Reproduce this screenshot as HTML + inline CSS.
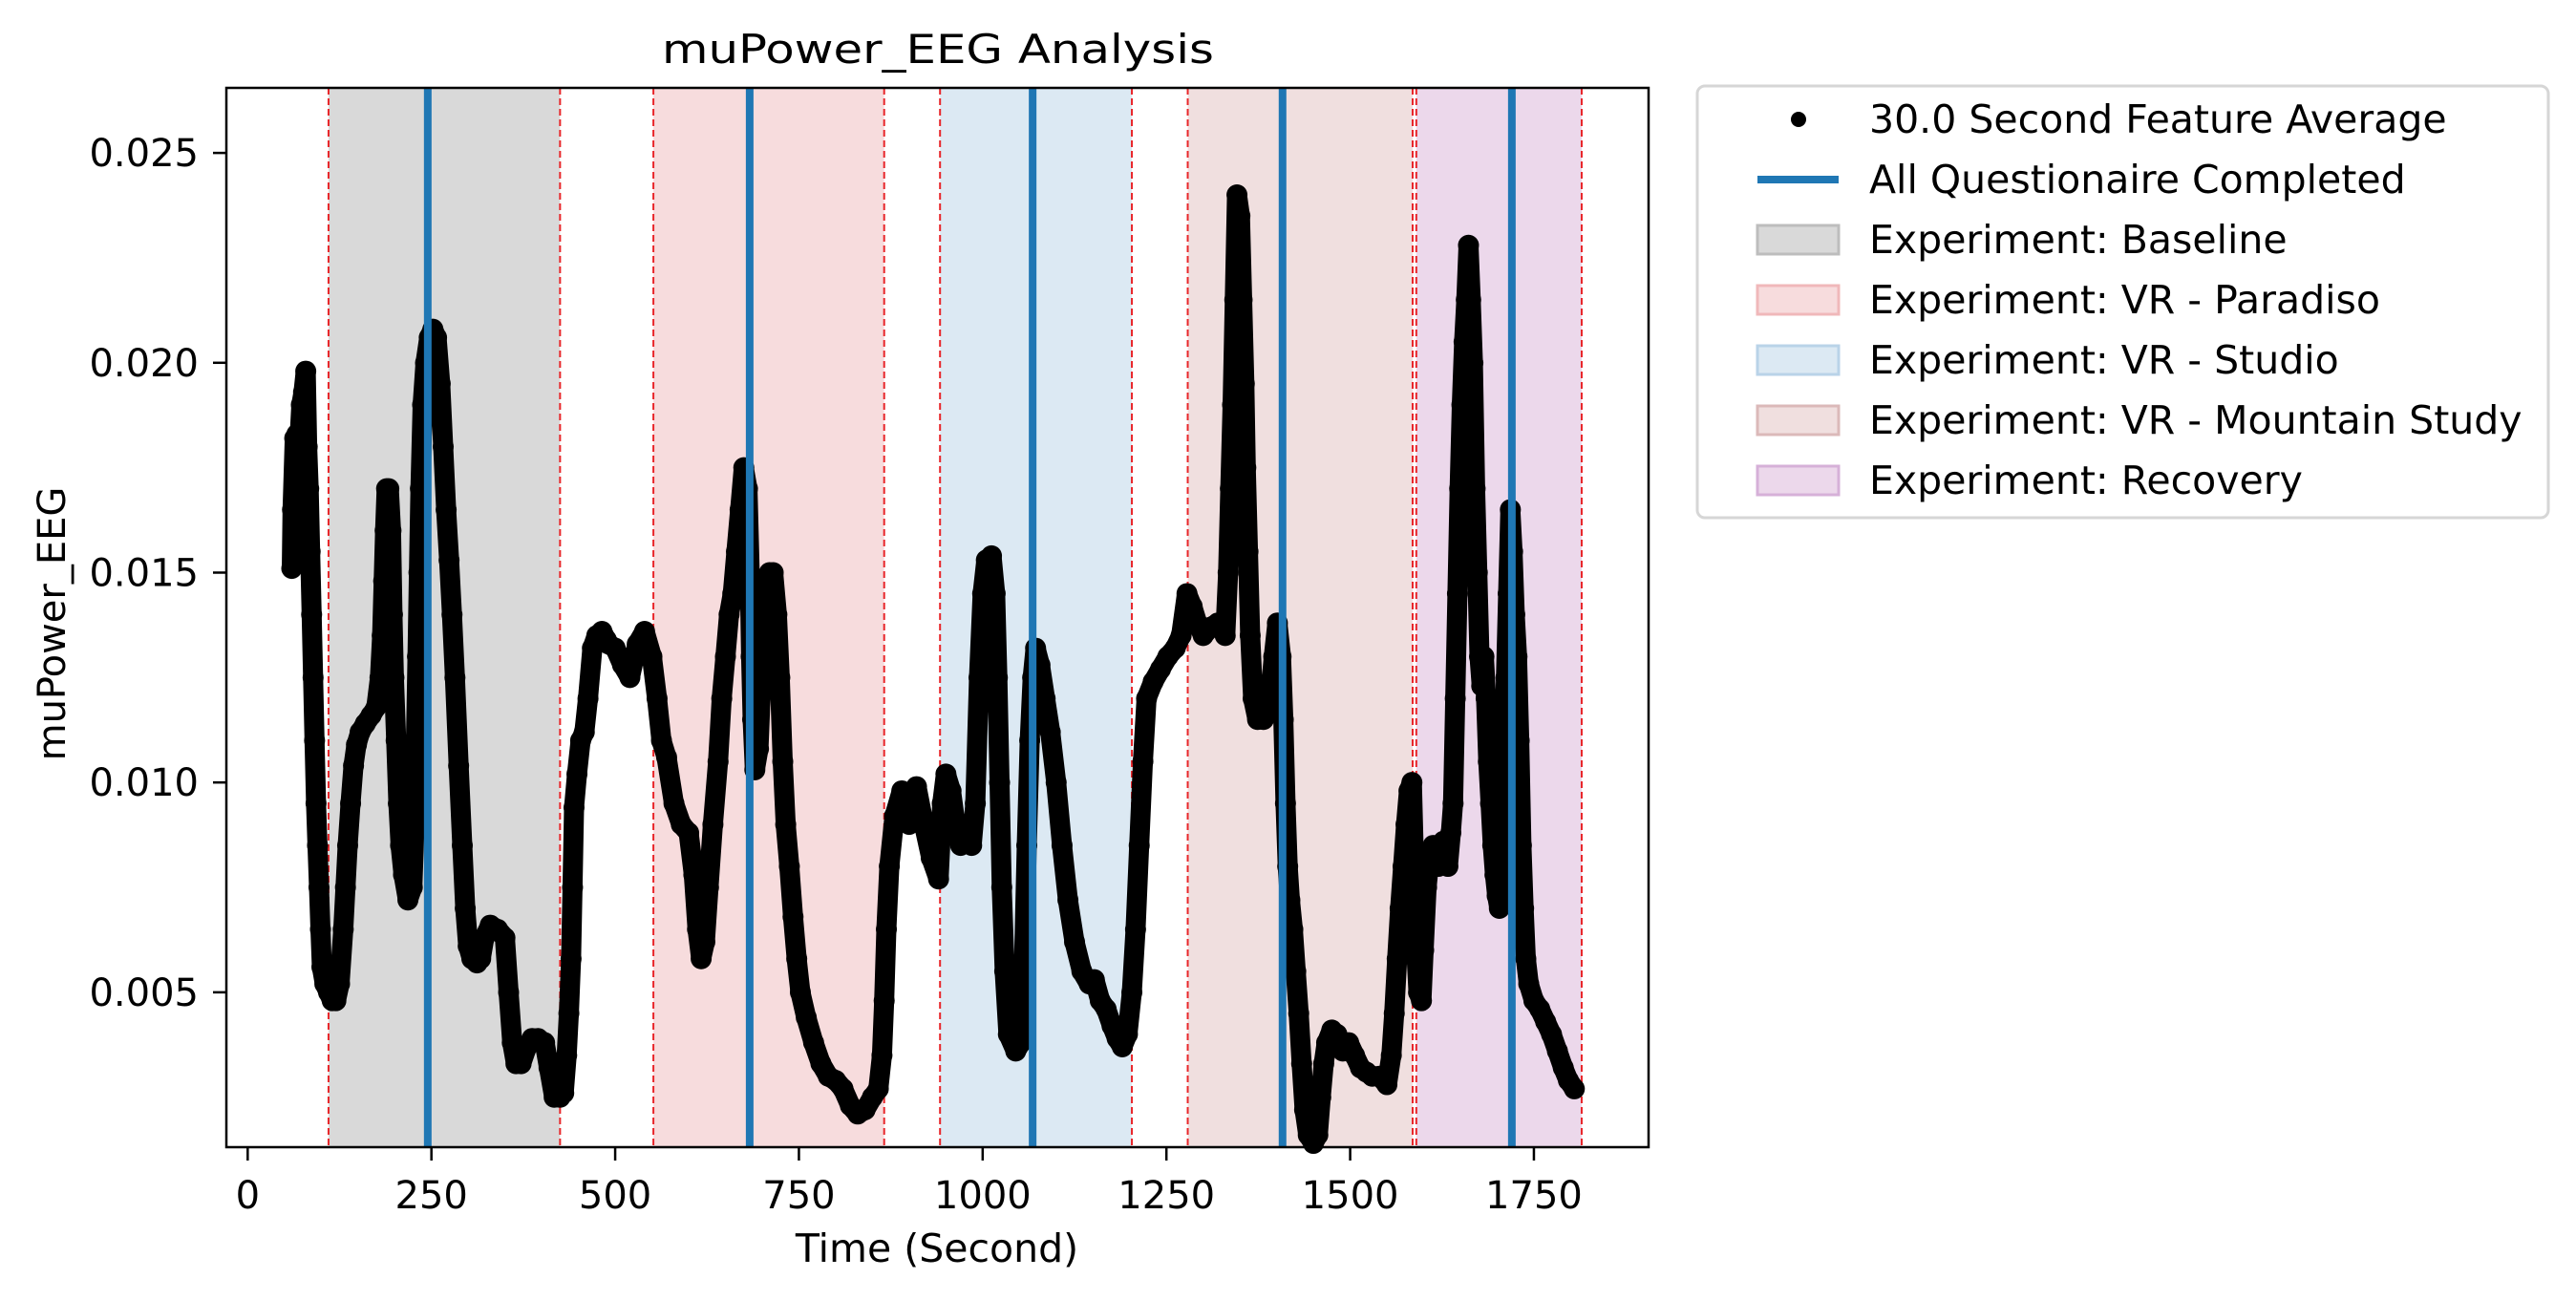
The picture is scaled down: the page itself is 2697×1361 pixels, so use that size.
<!DOCTYPE html>
<html><head><meta charset="utf-8"><style>
html,body{margin:0;padding:0;background:#fff}
svg{display:block;font-family:"DejaVu Sans","Liberation Sans",sans-serif}
</style></head><body>
<svg id="chart" width="2697" height="1361" viewBox="0 0 2697 1361" xmlns="http://www.w3.org/2000/svg">
<rect width="2697" height="1361" fill="#fff"/>
<g id="spans"></g><g id="dots"></g><g id="vlines"></g><g id="axes"></g>
<text x="982" y="66" font-size="42" text-anchor="middle" textLength="578" lengthAdjust="spacingAndGlyphs">muPower_EEG Analysis</text>
<text x="981" y="1321" font-size="41" text-anchor="middle">Time (Second)</text>
<text x="0" y="0" font-size="40" text-anchor="middle" transform="translate(68,653) rotate(-90)">muPower_EEG</text>
<g id="legend"></g>
</svg>
<script>
const times=[60,61,64,67,70,73,76,79,81,83,85,87,89,91,93,95,97,99,101,105,110,115,120,125,130,133,136,140,144,148,153,160,168,175,180,183,185,187,189,192,195,197,199,202,205,208,212,218,224,227,229,231,233,235,238,242,247,252,257,262,266,270,274,278,282,287,292,296,300,305,312,317,322,330,340,350,355,360,365,372,380,387,395,404,410,417,425,430,434,437,440,442,444,448,453,458,463,469,475,482,488,491,500,510,520,530,540,550,557,563,570,580,590,600,607,612,617,622,627,633,640,645,650,655,660,665,670,675,680,683,685,687,690,695,700,705,710,715,720,724,728,732,737,742,747,752,760,770,780,790,800,810,820,830,840,850,858,863,866,869,873,880,890,900,910,920,930,940,945,950,957,963,970,978,985,990,995,1000,1005,1012,1017,1020,1023,1026,1030,1035,1045,1052,1056,1060,1064,1068,1072,1078,1085,1092,1100,1108,1116,1125,1135,1145,1152,1160,1168,1176,1183,1190,1197,1203,1208,1213,1218,1223,1232,1242,1252,1262,1270,1278,1285,1292,1300,1310,1320,1330,1334,1337,1340,1343,1346,1350,1353,1356,1358,1361,1364,1368,1374,1382,1390,1396,1401,1406,1409,1412,1415,1418,1422,1426,1430,1434,1438,1443,1450,1456,1460,1464,1468,1475,1482,1490,1498,1506,1514,1522,1530,1540,1550,1556,1560,1564,1568,1572,1576,1580,1584,1587,1590,1593,1597,1600,1604,1608,1613,1620,1627,1633,1637,1640,1643,1646,1649,1652,1655,1658,1661,1664,1667,1670,1673,1676,1679,1682,1685,1688,1691,1694,1697,1700,1703,1706,1709,1712,1715,1718,1721,1724,1727,1730,1733,1736,1739,1743,1750,1758,1766,1774,1782,1790,1797,1805];
const valuesMilli=[15.1,16.5,18.2,18.3,18.0,19.0,19.3,19.8,18.0,17.0,15.5,14.0,12.5,11.0,9.5,8.5,7.5,6.5,5.6,5.2,5.0,4.8,4.8,5.2,6.5,7.5,8.5,9.5,10.4,10.9,11.2,11.4,11.6,11.8,12.5,13.5,14.8,16.0,17.0,17.0,16.0,14.0,12.5,11.0,9.5,8.5,7.8,7.2,7.5,9.0,11.0,13.0,15.0,17.0,19.0,20.0,20.6,20.8,20.6,19.5,18.0,16.5,15.3,14.0,12.5,10.4,8.5,7.0,6.1,5.8,5.7,5.8,6.3,6.6,6.5,6.3,5.0,3.8,3.3,3.3,3.7,3.9,3.9,3.8,3.2,2.5,2.5,2.6,3.5,4.5,5.8,7.5,9.4,10.2,11.0,11.2,12.0,13.2,13.5,13.6,13.4,13.3,13.2,12.8,12.5,13.3,13.6,13.0,12.0,11.0,10.6,9.5,9.0,8.8,7.8,6.5,5.8,6.2,7.5,9.0,10.5,12.0,13.0,14.0,14.5,15.5,16.5,17.5,17.0,15.0,13.0,11.5,10.3,10.8,13.0,14.5,15.0,15.0,14.0,12.5,10.5,9.0,8.0,6.8,5.8,5.0,4.4,3.8,3.3,3.0,2.9,2.7,2.3,2.1,2.2,2.5,2.7,3.5,4.8,6.5,8.0,9.2,9.8,9.0,9.9,9.0,8.2,7.7,9.5,10.2,9.8,9.0,8.5,9.0,8.5,9.5,12.5,14.5,15.3,15.4,14.5,12.5,10.0,7.5,5.5,4.0,3.6,3.8,5.5,8.5,11.0,12.5,13.2,12.8,12.0,11.2,10.0,8.5,7.2,6.2,5.5,5.2,5.3,4.8,4.6,4.2,3.9,3.7,4.0,5.0,6.5,8.5,10.5,12.0,12.4,12.7,13.0,13.2,13.5,14.5,14.2,13.8,13.5,13.7,13.8,13.5,15.0,17.0,19.0,21.5,24.0,23.5,21.5,19.5,17.5,15.5,13.5,12.0,11.5,11.5,11.8,13.0,13.8,13.0,11.5,9.5,8.0,7.2,6.5,5.5,4.5,3.3,2.2,1.6,1.4,1.6,2.5,3.3,3.8,4.1,4.0,3.6,3.8,3.5,3.2,3.1,3.0,3.0,2.8,3.5,4.5,5.8,7.0,8.0,9.0,9.8,10.0,8.0,6.0,5.0,4.8,6.0,7.5,8.2,8.5,8.0,8.6,8.0,8.8,9.5,12.0,14.5,17.0,19.0,20.5,21.5,22.8,21.5,20.0,17.0,15.0,13.0,12.3,13.0,12.0,10.5,9.5,8.5,7.8,7.3,7.0,8.0,10.0,12.5,14.5,16.5,15.5,14.0,13.0,11.0,8.5,7.0,5.8,5.2,4.8,4.6,4.3,4.0,3.6,3.2,2.9,2.7];
const spanNames=["Baseline","VR - Paradiso","VR - Studio","VR - Mountain Study","Recovery"];
const spanStarts=[110,552,942,1279,1590];
const spanEnds=[425,866,1203,1585,1815];
const questionnaireTimes=[245,683,1068,1408,1720];
const xTicks=[0,250,500,750,1000,1250,1500,1750];
const yTicks=[0.005,0.010,0.015,0.020,0.025];
const yTickLabels=["0.005","0.010","0.015","0.020","0.025"];

const L=237,R=1726,T=92,B=1201,XMIN=-29,XMAX=1906,YMIN=0.00131,YMAX=0.02655;
const fills=["#d9d9d9","#f7dcdd","#dce9f3","#f0dfdf","#ecd8eb"];
const edges=["#bdbdbd","#f0b8ba","#b9d3e8","#dbb9b9","#d6b0d8"];
const sx=t=>L+(t-XMIN)/(XMAX-XMIN)*(R-L);
const sy=v=>B-(v-YMIN)/(YMAX-YMIN)*(B-T);
const NS="http://www.w3.org/2000/svg";
function mk(tag,attrs,parent){const e=document.createElementNS(NS,tag);for(const k in attrs)e.setAttribute(k,attrs[k]);parent.appendChild(e);return e;}
const gS=document.getElementById('spans'),gD=document.getElementById('dots'),gV=document.getElementById('vlines'),gA=document.getElementById('axes'),gL=document.getElementById('legend');

spanStarts.forEach((s,i)=>{
  const r=mk('rect',{x:sx(s),y:T,width:sx(spanEnds[i])-sx(s),height:B-T,fill:fills[i]},gS);
  
  
  [s,spanEnds[i]].forEach(t=>{
    const l=mk('line',{x1:sx(t),x2:sx(t),y1:T,y2:B,stroke:'#e8262a','stroke-width':2,'stroke-dasharray':'7,4'},gS);
    
    
  });
});
const pts=times.map((t,i)=>sx(t).toFixed(1)+','+sy(valuesMilli[i]/1000).toFixed(1)).join(' ');
const trace=mk('polyline',{points:pts,fill:'none',stroke:'#000','stroke-width':21,'stroke-linejoin':'round','stroke-linecap':'round'},gD);


times.forEach((t,i)=>{
  const c=mk('circle',{cx:sx(t),cy:sy(valuesMilli[i]/1000),r:11,fill:'#000'},gD);
  
  
});
questionnaireTimes.forEach(t=>{
  const l=mk('line',{x1:sx(t),x2:sx(t),y1:T,y2:B,stroke:'#1f77b4','stroke-width':8},gV);
  
  
});
const frame=mk('rect',{x:L,y:T,width:R-L,height:B-T,fill:'none',stroke:'#000','stroke-width':2.5},gA);


xTicks.forEach(t=>{
  mk('line',{x1:sx(t),x2:sx(t),y1:B,y2:B+14,stroke:'#000','stroke-width':2.5},gA);
  const tx=mk('text',{x:sx(t),y:1265,'font-size':40,'text-anchor':'middle'},gA);
  tx.textContent=t;
  
  
});
yTicks.forEach((v,i)=>{
  mk('line',{x1:L-14,x2:L,y1:sy(v),y2:sy(v),stroke:'#000','stroke-width':2.5},gA);
  const tx=mk('text',{x:208,y:sy(v)+14,'font-size':40,'text-anchor':'end'},gA);
  tx.textContent=yTickLabels[i];
  
  
});
// legend
mk('rect',{x:1777,y:90,width:891,height:452,rx:8,fill:'#fff',stroke:'#d6d6d6','stroke-width':3},gL);
const labels=["30.0 Second Feature Average","All Questionaire Completed"].concat(spanNames.map(n=>"Experiment: "+n));
labels.forEach((lab,i)=>{
  const cy=125+i*63;
  let h;
  if(i===0){h=mk('circle',{cx:1883,cy:cy,r:8,fill:'#000'},gL);}
  else if(i===1){h=mk('line',{x1:1840,x2:1925,y1:cy,y2:cy,stroke:'#1f77b4','stroke-width':8},gL);}
  else{h=mk('rect',{x:1840,y:cy-15,width:85,height:30,fill:fills[i-2],stroke:edges[i-2],'stroke-width':3},gL);}
  
  
  const tx=mk('text',{x:1957,y:cy+14,'font-size':41},gL);
  tx.textContent=lab;
  
  
});
</script>
</body></html>
